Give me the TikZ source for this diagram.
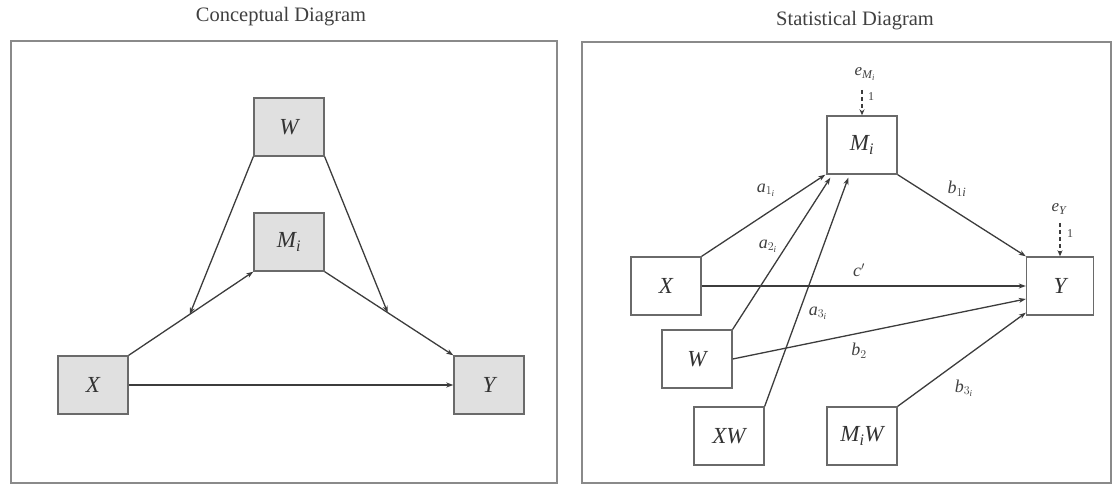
\documentclass[tikz,border=0pt]{standalone}
\usepackage{amsmath}
\usepackage{fontspec}
\setmainfont{Liberation Serif}
\usetikzlibrary{arrows.meta,calc}
\newcommand\mi[1]{\textit{#1}}
\definecolor{framecol}{HTML}{8A8A8A}
\definecolor{boxline}{HTML}{6A6A6A}
\definecolor{boxfill}{HTML}{E0E0E0}
\definecolor{linecol}{HTML}{3C3C3C}
\begin{document}
\begin{tikzpicture}[x=1pt,y=-1pt,
  panel/.style={draw=framecol,line width=1.6pt},
  title/.style={font=\fontsize{20.5}{23}\selectfont,text=black!75},
  var/.style={draw=boxline,line width=1.4pt,minimum width=70pt,minimum height=58pt,inner sep=0pt,font=\fontsize{23}{25}\selectfont,text=black!80},
  cvar/.style={var,fill=boxfill},
  path/.style={draw=linecol,line width=1.3pt,-{Stealth[length=7pt,width=5pt]}},
  err/.style={draw=linecol,line width=1.3pt,dash pattern=on 4pt off 3pt,-{Stealth[length=6pt,width=5pt]}},
  lab/.style={font=\fontsize{18}{20}\selectfont,text=black!75,inner sep=0pt}]
\useasboundingbox (0,0) rectangle (1117,489);
% ---------- Conceptual ----------
\node[title] (t1) at (281,17) {Conceptual Diagram};
\draw[panel] (11,41) rectangle (557,483);
\node[cvar] (cW) at (289,127) {$\mi{W}$};
\node[cvar] (cM) at (289,242) {$\mi{M}_{\mi{i}}$};
\node[cvar] (cX) at (93,385) {$\mi{X}$};
\node[cvar] (cY) at (489,385) {$\mi{Y}$};
\draw[path] (cX.north east) -- (cM.south west);
\draw[path] (cM.south east) -- (cY.north west);
\draw[path] (cX.east) -- (cY.west);
\coordinate (j1) at ($(cX.north east)!0.49!(cM.south west)$);
\coordinate (j2) at ($(cM.south east)!0.49!(cY.north west)$);
\draw[path] (cW.south west) -- (j1);
\draw[path] (cW.south east) -- (j2);
% ---------- Statistical ----------
\node[title] (t2) at (855,21) {Statistical Diagram};
\draw[panel] (582,42) rectangle (1111,483);
\node[var] (sM) at (862,145) {$\mi{M}_{\mi{i}}$};
\node[var] (sX) at (666,286) {$\mi{X}$};
\node[var] (sW) at (697,359) {$\mi{W}$};
\node[var] (sXW) at (729,436) {$\mi{XW}$};
\node[var] (sMW) at (862,436) {$\mi{M}_{\mi{i}}\mi{W}$};
\node[var,minimum width=67pt] (sY) at (1060,286) {$\mi{Y}$};
\node[lab,font=\fontsize{17}{19}\selectfont] (eM) at (865,74) {$\mi{e}_{\mi{M}_{\mi{i}}}$};
\node[lab,font=\fontsize{17}{19}\selectfont] (eY) at (1059,209) {$\mi{e}_{\mi{Y}}$};
\coordinate (eMs) at (862,90);
\coordinate (eYs) at (1060,223);
\draw[err] (eMs) -- (sM.north -| eMs);
\draw[err] (eYs) -- (sY.north -| eYs);
\node[lab,font=\fontsize{12}{13}\selectfont] (oneM) at (871,97) {1};
\node[lab,font=\fontsize{12}{13}\selectfont] (oneY) at (1070,234) {1};
\draw[path] (sX.north east) -- ([xshift=-1pt]sM.south west);
\draw[path] (sW.north east) -- ([xshift=4pt,yshift=-3pt]sM.south west);
\draw[path] (sXW.north east) -- ([xshift=22pt,yshift=-3pt]sM.south west);
\draw[path] (sM.south east) -- (sY.north west);
\draw[path] (sX.east) -- (sY.west);
\draw[path] (sW.east) -- ([yshift=-13pt]sY.west);
\draw[path] (sMW.north east) -- ([yshift=3pt]sY.south west);
\node[lab] (la1) at (766,190) {$\mi{a}_{1_{\mi{i}}}$};
\node[lab] (la2) at (768,246) {$\mi{a}_{2_{\mi{i}}}$};
\node[lab] (la3) at (818,313) {$\mi{a}_{3_{\mi{i}}}$};
\node[lab] (lc) at (859,270) {$\mi{c}'$};
\node[lab] (lb2) at (859,351) {$\mi{b}_{2}$};
\node[lab] (lb1) at (957,189) {$\mi{b}_{1\mi{i}}$};
\node[lab] (lb3) at (964,388) {$\mi{b}_{3_{\mi{i}}}$};
\end{tikzpicture}
\end{document}
